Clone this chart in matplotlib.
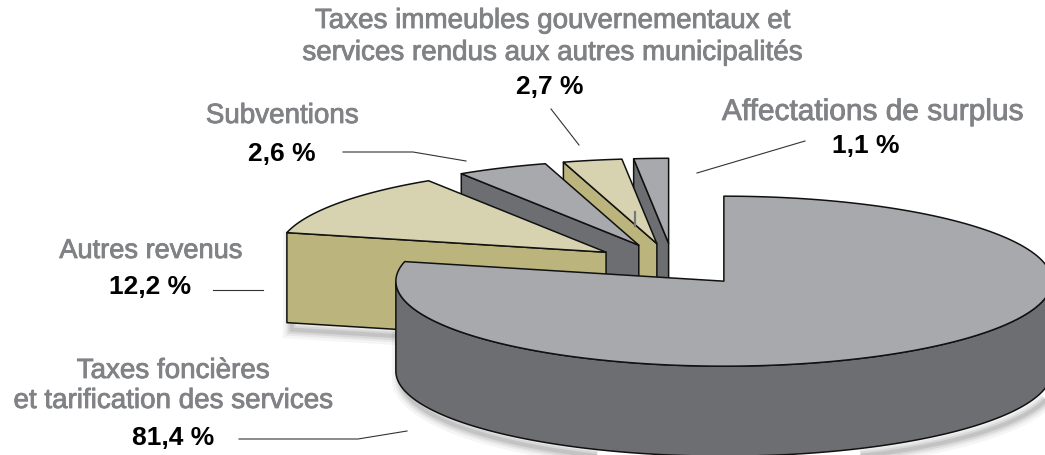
import numpy as np
import matplotlib
matplotlib.use('Agg')
import matplotlib.pyplot as plt
from matplotlib.patches import Polygon
import matplotlib.patheffects as pe

# Share of each revenue source, as printed on the chart
categories = ['Taxes foncières\net tarification des services',
              'Autres revenus',
              'Subventions',
              'Taxes immeubles gouvernementaux et\nservices rendus aux autres municipalités',
              'Affectations de surplus']
shares = [81.4, 12.2, 2.6, 2.7, 1.1]
# The slices are not drawn to scale, these are the sizes read off the picture
drawn_shares = [78.7, 12.2, 4.5, 2.9, 1.7]

GRAY = ('#a7a9ac', '#6d6e71')
KHAKI = ('#d7d3b0', '#bbb47c')
slice_colors = [GRAY, KHAKI, GRAY, KHAKI, GRAY]

# pie geometry in pixels
CX, CY = 673, 265.5
RX, RY = 328, 85
DEPTH = 90
EXPLODE = 0.25


def rim(cx, cy, angles):
    """Points on the pie rim, angles in degrees clockwise from 12 o'clock."""
    t = np.radians(angles)
    return np.column_stack([cx + RX * np.sin(t), cy - RY * np.cos(t)])


def drop(points):
    return points + np.array([0, DEPTH])


def draw_slice(ax, start, sweep, colors, shadow=False):
    end = start + sweep
    mid = np.radians(start + sweep / 2)
    cx = CX + EXPLODE * RX * np.sin(mid)
    cy = CY - EXPLODE * RY * np.cos(mid)
    apex = np.array([[cx, cy]])
    arc = rim(cx, cy, np.linspace(start, end, 200))
    top, side = colors
    style = dict(edgecolor='#111111', linewidth=1.1, joinstyle='round')

    walls = []
    # radial wall along the start edge, only seen when it faces the viewer
    if 180 < start < 360:
        edge = np.vstack([arc[:1], apex])
        walls.append(np.vstack([edge, drop(edge)[::-1]]))
    # outer wall, front half of the rim only
    lo, hi = max(start, 90), min(end, 270)
    if lo < hi:
        front = rim(cx, cy, np.linspace(lo, hi, 200))
        walls.append(np.vstack([front, drop(front)[::-1]]))

    if shadow:
        for wall in walls:
            for width, alpha in zip([13, 9, 6, 3], [0.04, 0.05, 0.07, 0.09]):
                ax.add_patch(Polygon(wall + np.array([5, 7]), closed=True, facecolor='none',
                                     edgecolor='black', linewidth=width, alpha=alpha, zorder=1))

    for wall in walls:
        ax.add_patch(Polygon(wall, closed=True, facecolor=side, zorder=2, **style))
    ax.add_patch(Polygon(np.vstack([apex, arc]), closed=True, facecolor=top, zorder=2, **style))


fig = plt.figure(figsize=(10.45, 4.56), dpi=100)
ax = fig.add_axes([0, 0, 1, 1])
ax.set_xlim(0, 1045)
ax.set_ylim(456, 0)
ax.axis('off')

# back slices first so the front ones cover them
starts = np.concatenate([[0], np.cumsum(drawn_shares)[:-1]]) * 3.6
for i in reversed(range(len(shares))):
    draw_slice(ax, starts[i], drawn_shares[i] * 3.6, slice_colors[i], shadow=i < 2)

# small stray mark on the reference
ax.plot([635, 635], [213, 227], color='#77787b', linewidth=1.6, zorder=3)

# leader lines
leaders = [([239, 358, 407], [440, 440, 432]),
           ([213, 263], [291, 291]),
           ([343, 413, 466], [153, 153, 162]),
           ([551, 579], [110, 146]),
           ([697, 805], [174, 142])]
for xs, ys in leaders:
    ax.plot(xs, ys, color='#333333', linewidth=0.8, zorder=3)

# label placement: center x, y of name (last line), y of percent, x of percent, line gap, font size
label_pos = [(173, 402, 438, 173, 30, 20),
             (151, 252, 287, 150, 0, 19.6),
             (282, 117, 154, 282, 0, 20),
             (552, 54, 87, 550, 32, 20),
             (873, 113, 146, 866, 0, 21.5)]
font = ['Liberation Sans', 'DejaVu Sans']
for name, share, (x, y, y_pct, x_pct, gap, size) in zip(categories, shares, label_pos):
    lines = name.split('\n')
    for k, line in enumerate(lines):
        y_line = y - (len(lines) - 1 - k) * gap
        ax.text(x, y_line, line, ha='center', va='center', fontsize=size, family=font,
                color='#808285', zorder=4,
                path_effects=[pe.withStroke(linewidth=0.6, foreground='#808285')])
    ax.text(x_pct, y_pct, f'{share:.1f} %'.replace('.', ','), ha='center', va='center',
            fontsize=19, family=font, fontweight='bold', color='black', zorder=4)

fig.savefig('out.png', dpi=100)
